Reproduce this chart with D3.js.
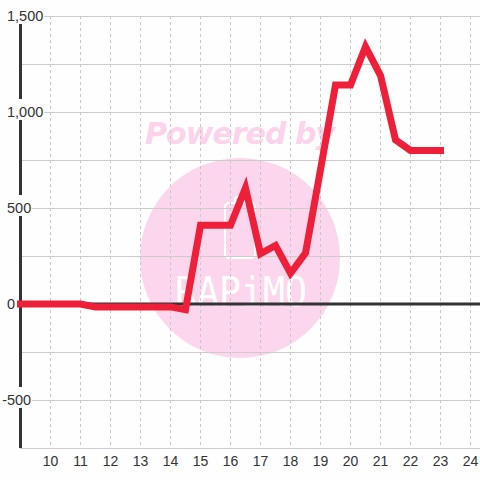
<!DOCTYPE html>
<meta charset="utf-8">
<style>
    html, body {
        margin: 0;
        padding: 0;
        background: #fff;
    }
    svg {
        display: block;
        font-family: "Liberation Sans", Arial, sans-serif;
    }
</style>
<body>
<div id="chart"></div>
<script src="https://d3js.org/d3.v7.min.js"></script>
<script>
    // values
    var hours = [9, 11, 11.5, 14, 14.5, 15, 16, 16.5, 17, 17.5, 18, 18.5, 19, 19.5, 20, 20.5, 21, 21.5, 22, 23];
    var values = [0, 0, -15, -15, -30, 410, 410, 605, 262, 305, 160, 265, 700, 1140, 1140, 1340, 1190, 855, 800, 800];
    var xTicks = [10, 11, 12, 13, 14, 15, 16, 17, 18, 19, 20, 21, 22, 23, 24];
    var yTicks = [-500, 0, 500, 1000, 1500];
    var yGrid = [-750, -500, -250, 0, 250, 500, 750, 1000, 1250, 1500];

    var width = 480, height = 480;

    var x = d3.scaleLinear().domain([9, 24.3333]).range([20.5, 480.5]);
    var y = d3.scaleLinear().domain([-750, 1500]).range([448, 16]);

    var svg = d3.select("#chart").append("svg")
        .attr("width", width)
        .attr("height", height);

    svg.append("rect")
        .attr("width", width)
        .attr("height", height)
        .attr("fill", "#fefefe");

    // watermark
    var wm = svg.append("g");
    wm.append("circle")
        .attr("cx", 240).attr("cy", 258).attr("r", 100)
        .attr("fill", "#fcd6ec");
    wm.append("text")
        .attr("x", 240).attr("y", 144)
        .attr("text-anchor", "middle")
        .attr("font-size", 30)
        .attr("font-weight", "bold")
        .attr("font-style", "italic")
        .attr("font-family", "DejaVu Sans, sans-serif")
        .attr("fill", "#fcd3eb")
        .attr("textLength", 190)
        .text("Powered by");
    wm.append("rect")
        .attr("x", 225).attr("y", 203).attr("width", 30).attr("height", 55).attr("rx", 4)
        .attr("fill", "none").attr("stroke", "#fff").attr("stroke-width", 2);
    wm.append("rect")
        .attr("x", 235).attr("y", 197).attr("width", 10).attr("height", 6).attr("rx", 2)
        .attr("fill", "none").attr("stroke", "#fff").attr("stroke-width", 2);
    wm.append("text")
        .attr("x", 241).attr("y", 306)
        .attr("text-anchor", "middle")
        .attr("font-size", 40)
        .attr("font-family", "DejaVu Sans Mono, monospace")
        .attr("fill", "#fff")
        .attr("textLength", 132)
        .attr("lengthAdjust", "spacingAndGlyphs")
        .text("RAPiMO");

    // grid
    svg.append("g").selectAll("line")
        .data(yGrid)
        .enter().append("line")
        .attr("x1", 20).attr("x2", width)
        .attr("y1", function(d) { return Math.round(y(d)) + 0.5; })
        .attr("y2", function(d) { return Math.round(y(d)) + 0.5; })
        .attr("stroke", "#cccccc")
        .attr("stroke-width", 1);

    svg.append("g").selectAll("line")
        .data(xTicks)
        .enter().append("line")
        .attr("x1", function(d) { return x(d); })
        .attr("x2", function(d) { return x(d); })
        .attr("y1", 16).attr("y2", 448)
        .attr("stroke", "#c8c8c8")
        .attr("stroke-width", 1)
        .attr("stroke-dasharray", "3,3");

    // zero line and left axis
    svg.append("line")
        .attr("x1", 20).attr("x2", width)
        .attr("y1", y(0)).attr("y2", y(0))
        .attr("stroke", "#333")
        .attr("stroke-width", 3);

    svg.append("line")
        .attr("x1", 20.5).attr("x2", 20.5)
        .attr("y1", 16).attr("y2", 448)
        .attr("stroke", "#333")
        .attr("stroke-width", 3);

    // y labels with white boxes, digits start at x=7, minus sign hangs left
    var fmt = d3.format(",");
    var yl = svg.append("g").selectAll("g")
        .data(yTicks)
        .enter().append("g")
        .attr("transform", function(d) { return "translate(0," + y(d) + ")"; });

    yl.append("text")
        .attr("dy", "0.35em")
        .attr("font-size", 14.5)
        .attr("fill", "#333")
        .text(function(d) { return fmt(d).replace("\u2212", "-"); })
        .each(function(d) {
            var sel = d3.select(this);
            var x0 = 7;
            if (d < 0) x0 -= this.getSubStringLength(0, 1);
            sel.attr("x", x0);
            var b = this.getBBox();
            d3.select(this.parentNode).insert("rect", "text")
                .attr("x", b.x - 1).attr("y", -13)
                .attr("width", b.width + 2).attr("height", 21)
                .attr("fill", "#fefefe");
        });

    // series
    var line = d3.line()
        .x(function(d, i) { return x(hours[i]); })
        .y(function(d) { return y(d); });

    svg.append("path")
        .datum(values)
        .attr("d", line)
        .attr("fill", "none")
        .attr("stroke", "#ee1f38")
        .attr("stroke-width", 7)
        .attr("stroke-linecap", "square")
        .attr("stroke-linejoin", "miter");

    // x labels
    svg.append("g").selectAll("text")
        .data(xTicks)
        .enter().append("text")
        .attr("x", function(d) { return x(d); })
        .attr("y", 466)
        .attr("text-anchor", "middle")
        .attr("font-size", 14)
        .attr("fill", "#333")
        .text(function(d) { return d; });
</script>
</body>
